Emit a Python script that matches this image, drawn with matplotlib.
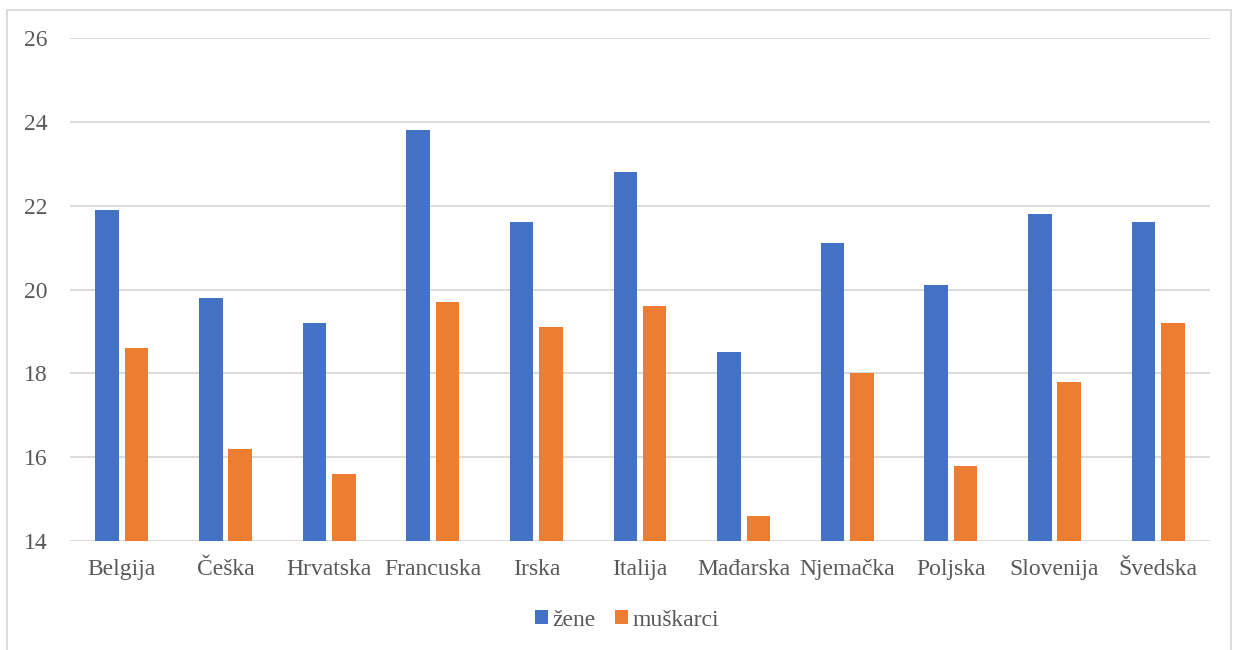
import matplotlib
matplotlib.use("Agg")
import matplotlib.pyplot as plt
import numpy as np
from matplotlib.patches import Rectangle

categories = ["Belgija", "Češka", "Hrvatska", "Francuska", "Irska", "Italija",
              "Mađarska", "Njemačka", "Poljska", "Slovenija", "Švedska"]
zene = [21.9, 19.8, 19.2, 23.8, 21.6, 22.8, 18.5, 21.1, 20.1, 21.8, 21.6]
muskarci = [18.6, 16.2, 15.6, 19.7, 19.1, 19.6, 14.6, 18.0, 15.8, 17.8, 19.2]
yticks = [14, 16, 18, 20, 22, 24, 26]

plt.rcParams['font.family'] = ['Liberation Serif', 'DejaVu Serif']
W, H = 1237, 650
fig = plt.figure(figsize=(W/100, H/100), dpi=100)
ax = fig.add_axes([70/W, 1-541/H, 1140/W, 503/H])

x = np.arange(len(categories))
bw = 0.227
off = 0.142
ax.bar(x - off, np.array(zene) - 14, bw, bottom=14, color='#4472C4', label='žene', zorder=3)
ax.bar(x + off, np.array(muskarci) - 14, bw, bottom=14, color='#ED7D31', label='muškarci', zorder=3)

ax.set_xlim(-0.5, len(categories) - 0.5)
ax.set_ylim(14, 26)
ax.set_yticks(yticks)
ax.set_yticklabels([str(t) for t in yticks])
ax.set_xticks(x)
ax.set_xticklabels(categories)
ax.grid(axis='y', color='#D9D9D9', linewidth=1.3, zorder=0)
for s in ax.spines.values():
    s.set_visible(False)
ax.tick_params(axis='both', length=0, labelsize=17, colors='#595959')
ax.tick_params(axis='y', pad=16)
ax.tick_params(axis='x', pad=13)

fig.legend(loc='center', bbox_to_anchor=(627/W, 1-620/H), ncol=2, frameon=False,
           fontsize=17, labelcolor='#595959', handlelength=0.55, handleheight=0.55,
           handletextpad=0.2, columnspacing=0.8)

fig.patches.append(Rectangle((7/W, -0.1), 1224/W, 1 - 10/H + 0.1, transform=fig.transFigure,
                             fill=False, edgecolor='#D9D9D9', linewidth=1.3))

fig.savefig('out.png', dpi=100)
